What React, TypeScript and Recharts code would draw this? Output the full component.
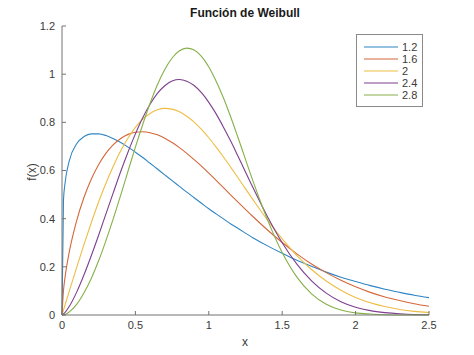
import { LineChart, Line, XAxis, YAxis, Legend } from "recharts";

const xs = [
  0, 0.01, 0.02, 0.05, 0.1, 0.15, 0.2, 0.25, 0.3, 0.35, 0.4, 0.45, 0.5, 0.55, 0.6, 0.65, 0.7, 0.75, 0.8, 0.85,
  0.9, 0.95, 1.0, 1.05, 1.1, 1.15, 1.2, 1.3, 1.4, 1.5, 1.6, 1.7, 1.8, 1.9, 2.0, 2.1, 2.2, 2.3, 2.4, 2.5,
];

const k12 = [
  0, 0.476, 0.544, 0.641, 0.711, 0.741, 0.752, 0.752, 0.745, 0.732, 0.716, 0.697, 0.676, 0.654, 0.63, 0.606, 0.582,
  0.558, 0.534, 0.51, 0.487, 0.464, 0.441, 0.42, 0.399, 0.378, 0.359, 0.321, 0.287, 0.256, 0.227, 0.202, 0.178, 0.157,
  0.139, 0.122, 0.107, 0.094, 0.082, 0.072,
];
const k16 = [
  0, 0.101, 0.153, 0.263, 0.392, 0.489, 0.565, 0.625, 0.672, 0.707, 0.733, 0.75, 0.759, 0.761, 0.757, 0.748, 0.734,
  0.716, 0.695, 0.671, 0.645, 0.618, 0.589, 0.559, 0.529, 0.498, 0.468, 0.409, 0.353, 0.301, 0.254, 0.212, 0.176,
  0.144, 0.117, 0.094, 0.075, 0.06, 0.047, 0.036,
];
const k20 = [
  0, 0.02, 0.04, 0.1, 0.198, 0.293, 0.384, 0.47, 0.548, 0.619, 0.682, 0.735, 0.779, 0.813, 0.837, 0.852, 0.858, 0.855,
  0.844, 0.825, 0.801, 0.771, 0.736, 0.697, 0.656, 0.613, 0.569, 0.48, 0.394, 0.316, 0.247, 0.189, 0.141, 0.103, 0.073,
  0.051, 0.035, 0.023, 0.015, 0.01,
];
const k24 = [
  0, 0.004, 0.01, 0.036, 0.095, 0.167, 0.247, 0.332, 0.421, 0.509, 0.596, 0.677, 0.752, 0.819, 0.875, 0.92, 0.952,
  0.972, 0.978, 0.971, 0.953, 0.923, 0.883, 0.835, 0.78, 0.721, 0.658, 0.53, 0.408, 0.3, 0.211, 0.142, 0.091, 0.055,
  0.032, 0.018, 0.01, 0.005, 0.002, 0.001,
];
const k28 = [
  0, 0.001, 0.002, 0.013, 0.044, 0.092, 0.153, 0.226, 0.31, 0.401, 0.498, 0.598, 0.697, 0.791, 0.879, 0.956, 1.019,
  1.067, 1.097, 1.108, 1.1, 1.074, 1.03, 0.971, 0.901, 0.821, 0.735, 0.558, 0.395, 0.259, 0.157, 0.088, 0.045, 0.021,
  0.009, 0.004, 0.001, 0, 0, 0,
];

const xTicks = [0, 0.5, 1, 1.5, 2, 2.5];
const yTicks = [0, 0.2, 0.4, 0.6, 0.8, 1, 1.2];

const series = [
  { key: "k12", name: "1.2", color: "#2f86c4", values: k12 },
  { key: "k16", name: "1.6", color: "#d4673a", values: k16 },
  { key: "k20", name: "2", color: "#eebd45", values: k20 },
  { key: "k24", name: "2.4", color: "#7d3f8e", values: k24 },
  { key: "k28", name: "2.8", color: "#86b04a", values: k28 },
];

const data = xs.map((x, i) => {
  const row: Record<string, number> = { x };
  series.forEach((s) => (row[s.key] = s.values[i]));
  return row;
});

const font = '"Liberation Sans", Arial, sans-serif';
const axisColor = "#737373";
const textColor = "#3a3a3a";

function WeibullLegend() {
  return (
    <div
      style={{
        border: "1px solid #8a8a8a",
        background: "#fff",
        padding: "6px 0 5px 7px",
        boxSizing: "border-box",
        width: 67,
        fontFamily: font,
        fontSize: 11,
        color: textColor,
      }}
    >
      {series.map((s) => (
        <div key={s.key} style={{ display: "flex", alignItems: "center", height: 12 }}>
          <svg width={34} height={12} style={{ marginRight: 4, display: "block" }}>
            <line x1={0} x2={34} y1={6} y2={6} stroke={s.color} strokeWidth={1.2} />
          </svg>
          <span>{s.name}</span>
        </div>
      ))}
    </div>
  );
}

export default function App() {
  return (
    <div style={{ position: "absolute", left: 0, top: 0, width: 474, height: 355, background: "#fff", fontFamily: font }}>
      <div
        style={{
          position: "absolute",
          top: 6,
          left: 0,
          width: 490,
          textAlign: "center",
          fontSize: 12,
          fontWeight: "bold",
          color: "#1a1a1a",
        }}
      >
        Función de Weibull
      </div>
      <div
        style={{
          position: "absolute",
          left: 32,
          top: 172,
          transform: "translate(-50%, -50%) rotate(-90deg)",
          fontSize: 12,
          color: textColor,
        }}
      >
        f(x)
      </div>
      <div
        style={{ position: "absolute", left: 245, top: 342, transform: "translate(-50%, -50%)", fontSize: 12, color: textColor }}
      >
        x
      </div>
      <LineChart width={474} height={355} data={data} margin={{ top: 26, right: 45, left: 22, bottom: 15 }}>
        <XAxis
          dataKey="x"
          type="number"
          domain={[0, 2.5]}
          ticks={xTicks}
          stroke={axisColor}
          tickSize={-4}
          tickMargin={10}
          height={25}
          tick={{ fontSize: 11, fill: textColor, fontFamily: font }}
        />
        <YAxis
          type="number"
          domain={[0, 1.2]}
          ticks={yTicks}
          stroke={axisColor}
          tickSize={-4}
          tickMargin={11}
          width={40}
          tick={{ fontSize: 11, fill: textColor, fontFamily: font }}
        />
        <Legend
          layout="vertical"
          align="center"
          verticalAlign="middle"
          wrapperStyle={{ left: 356, top: 34, width: 67 }}
          content={() => <WeibullLegend />}
        />
        {series.map((s) => (
          <Line
            key={s.key}
            type="monotone"
            dataKey={s.key}
            name={s.name}
            stroke={s.color}
            strokeWidth={1.1}
            dot={false}
            isAnimationActive={false}
          />
        ))}
      </LineChart>
    </div>
  );
}
